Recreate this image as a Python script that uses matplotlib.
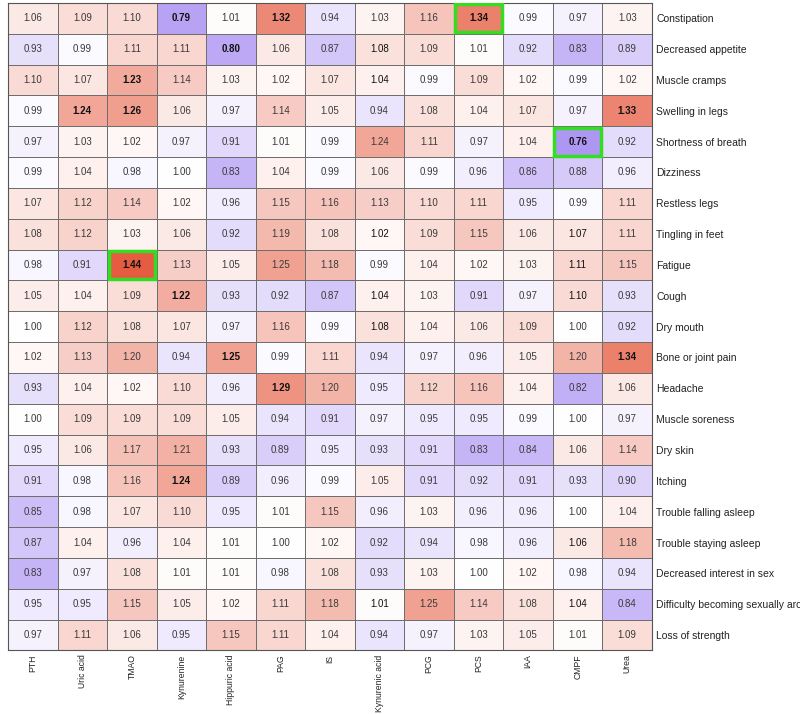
import numpy as np
import matplotlib
matplotlib.use("Agg")
import matplotlib.pyplot as plt
from matplotlib.colors import LinearSegmentedColormap, TwoSlopeNorm
from matplotlib.patches import Rectangle

columns = ["PTH", "Uric acid", "TMAO", "Kynurenine", "Hippuric acid", "PAG", "IS",
           "Kynurenic acid", "PCG", "PCS", "IAA", "CMPF", "Urea"]
symptoms = ["Constipation", "Decreased appetite", "Muscle cramps", "Swelling in legs",
            "Shortness of breath", "Dizziness", "Restless legs", "Tingling in feet",
            "Fatigue", "Cough", "Dry mouth", "Bone or joint pain", "Headache",
            "Muscle soreness", "Dry skin", "Itching", "Trouble falling asleep",
            "Trouble staying asleep", "Decreased interest in sex",
            "Difficulty becoming sexually aroused", "Loss of strength"]

values = [
    [1.06, 1.09, 1.10, 0.79, 1.01, 1.32, 0.94, 1.03, 1.16, 1.34, 0.99, 0.97, 1.03],
    [0.93, 0.99, 1.11, 1.11, 0.80, 1.06, 0.87, 1.08, 1.09, 1.01, 0.92, 0.83, 0.89],
    [1.10, 1.07, 1.23, 1.14, 1.03, 1.02, 1.07, 1.04, 0.99, 1.09, 1.02, 0.99, 1.02],
    [0.99, 1.24, 1.26, 1.06, 0.97, 1.14, 1.05, 0.94, 1.08, 1.04, 1.07, 0.97, 1.33],
    [0.97, 1.03, 1.02, 0.97, 0.91, 1.01, 0.99, 1.24, 1.11, 0.97, 1.04, 0.76, 0.92],
    [0.99, 1.04, 0.98, 1.00, 0.83, 1.04, 0.99, 1.06, 0.99, 0.96, 0.86, 0.88, 0.96],
    [1.07, 1.12, 1.14, 1.02, 0.96, 1.15, 1.16, 1.13, 1.10, 1.11, 0.95, 0.99, 1.11],
    [1.08, 1.12, 1.03, 1.06, 0.92, 1.19, 1.08, 1.02, 1.09, 1.15, 1.06, 1.07, 1.11],
    [0.98, 0.91, 1.44, 1.13, 1.05, 1.25, 1.18, 0.99, 1.04, 1.02, 1.03, 1.11, 1.15],
    [1.05, 1.04, 1.09, 1.22, 0.93, 0.92, 0.87, 1.04, 1.03, 0.91, 0.97, 1.10, 0.93],
    [1.00, 1.12, 1.08, 1.07, 0.97, 1.16, 0.99, 1.08, 1.04, 1.06, 1.09, 1.00, 0.92],
    [1.02, 1.13, 1.20, 0.94, 1.25, 0.99, 1.11, 0.94, 0.97, 0.96, 1.05, 1.20, 1.34],
    [0.93, 1.04, 1.02, 1.10, 0.96, 1.29, 1.20, 0.95, 1.12, 1.16, 1.04, 0.82, 1.06],
    [1.00, 1.09, 1.09, 1.09, 1.05, 0.94, 0.91, 0.97, 0.95, 0.95, 0.99, 1.00, 0.97],
    [0.95, 1.06, 1.17, 1.21, 0.93, 0.89, 0.95, 0.93, 0.91, 0.83, 0.84, 1.06, 1.14],
    [0.91, 0.98, 1.16, 1.24, 0.89, 0.96, 0.99, 1.05, 0.91, 0.92, 0.91, 0.93, 0.90],
    [0.85, 0.98, 1.07, 1.10, 0.95, 1.01, 1.15, 0.96, 1.03, 0.96, 0.96, 1.00, 1.04],
    [0.87, 1.04, 0.96, 1.04, 1.01, 1.00, 1.02, 0.92, 0.94, 0.98, 0.96, 1.06, 1.18],
    [0.83, 0.97, 1.08, 1.01, 1.01, 0.98, 1.08, 0.93, 1.03, 1.00, 1.02, 0.98, 0.94],
    [0.95, 0.95, 1.15, 1.05, 1.02, 1.11, 1.18, 1.01, 1.25, 1.14, 1.08, 1.04, 0.84],
    [0.97, 1.11, 1.06, 0.95, 1.15, 1.11, 1.04, 0.94, 0.97, 1.03, 1.05, 1.01, 1.09],
]

# (row, col) of bold (significant) cells
bold_cells = [(0, 3), (0, 5), (0, 9), (1, 4), (2, 2), (3, 1), (3, 2), (3, 12),
              (4, 11), (8, 2), (9, 3), (11, 4), (11, 12), (12, 5), (15, 3)]
semi_cells = [(1, 7), (2, 7), (7, 7), (9, 7), (10, 7), (7, 11), (8, 11), (9, 11),
              (17, 11), (19, 11), (19, 7)]
highlight_cells = [(0, 9), (4, 11), (8, 2)]

data = np.array(values)
nr, nc = data.shape

cmap = LinearSegmentedColormap.from_list(
    "pw", [(0.0, (120/255, 80/255, 235/255)), (0.5, (1, 1, 1)), (1.0, (226/255, 70/255, 40/255))])
norm = TwoSlopeNorm(vmin=0.6, vcenter=1.0, vmax=1.5)

plt.rcParams['font.family'] = ['Liberation Sans', 'DejaVu Sans']
fig = plt.figure(figsize=(8.0, 7.14), dpi=100)
ax = fig.add_axes([0.01, 0.089, 0.805, 0.907])

ax.pcolormesh(np.arange(nc + 1), np.arange(nr + 1), data, cmap=cmap, norm=norm,
              edgecolors="#6e6e6e", linewidth=0.7)
ax.set_xlim(0, nc)
ax.set_ylim(nr, 0)

for i in range(nr):
    for j in range(nc):
        if (i, j) in bold_cells:
            w, col = "bold", "#111111"
        elif (i, j) in semi_cells:
            w, col = "normal", "#111111"
        else:
            w, col = "normal", "#3a3a3a"
        ax.text(j + 0.5, i + 0.5, f"{data[i, j]:.2f}", ha="center", va="center",
                fontsize=7, fontweight=w, color=col)

for (i, j) in highlight_cells:
    ax.add_patch(Rectangle((j + 0.03, i + 0.05), 0.94, 0.9, fill=False,
                           edgecolor="#33dd22", linewidth=2.5, zorder=5))

ax.set_xticks(np.arange(nc) + 0.5)
ax.set_xticklabels(columns, rotation=90, fontsize=6.2, color="#222222")
ax.set_yticks(np.arange(nr) + 0.5)
ax.set_yticklabels(symptoms, fontsize=7.5, color="#222222")
ax.yaxis.tick_right()
ax.tick_params(axis="x", length=0, pad=3)
ax.tick_params(axis="y", length=0, pad=3)
for s in ax.spines.values():
    s.set_edgecolor("#555555")
    s.set_linewidth(0.8)

fig.savefig("out.png", dpi=100)
